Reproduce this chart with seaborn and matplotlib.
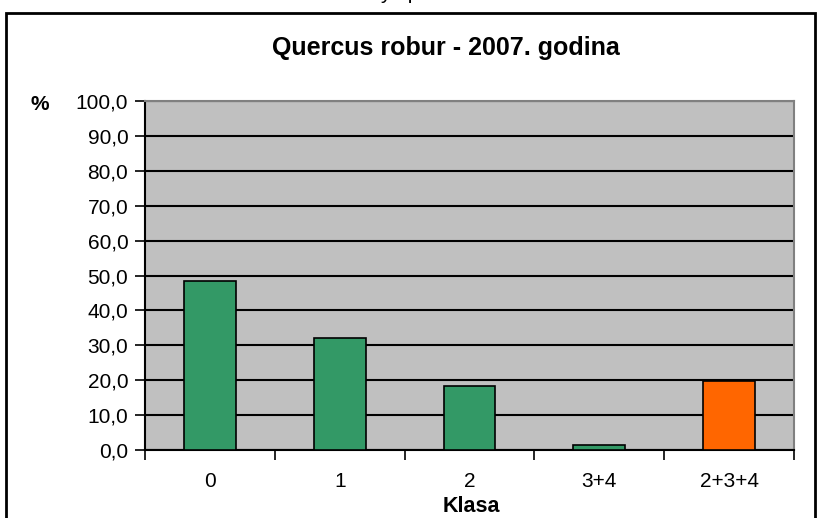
import matplotlib
matplotlib.use("Agg")
import matplotlib.pyplot as plt
import matplotlib.patches as mpatches
import seaborn as sns
import pandas as pd

# values
klase = ["0", "1", "2", "3+4", "2+3+4"]
postotak = [48.5, 32.0, 18.3, 1.4, 19.7]
boje = ["#339966", "#339966", "#339966", "#339966", "#FF6600"]

df = pd.DataFrame({"Klasa": klase, "Postotak": postotak})

sns.set_style("white")
plt.rcParams["font.family"] = ["Liberation Sans", "DejaVu Sans"]
plt.rcParams["text.color"] = "black"
plt.rcParams["xtick.color"] = "black"
plt.rcParams["ytick.color"] = "black"

W, H = 821, 518
fig = plt.figure(figsize=(W / 100, H / 100), dpi=100)
ax = fig.add_axes([145 / W, 1 - 450 / H, (794 - 145) / W, (450 - 101) / H])
ax.set_facecolor("#C0C0C0")

sns.barplot(data=df, x="Klasa", y="Postotak", hue="Klasa", palette=boje,
            saturation=1, width=0.4, edgecolor="black", linewidth=1.2,
            legend=False, ax=ax, zorder=3)

ax.set_ylim(0, 100)
ax.set_xlim(-0.5, len(klase) - 0.5)
ax.set_yticks(range(0, 101, 10))
ax.set_yticklabels([f"{v:.1f}".replace(".", ",") for v in range(0, 101, 10)], fontsize=15)
ax.yaxis.grid(True, color="black", linewidth=1.5, zorder=1)
ax.set_axisbelow(True)

# category boundaries as ticks, labels in the middle
ax.set_xticks([i - 0.5 for i in range(len(klase) + 1)])
ax.set_xticklabels([])
ax.set_xticks(range(len(klase)), minor=True)
ax.set_xticklabels(klase, minor=True, fontsize=15)
ax.tick_params(axis="x", which="major", length=7, width=1.2, color="black", direction="out", bottom=True)
ax.tick_params(axis="x", which="minor", length=0, pad=16)
ax.tick_params(axis="y", length=7, width=1.2, color="black", direction="out", left=True, pad=5)

for s in ["left", "bottom"]:
    ax.spines[s].set_color("black")
    ax.spines[s].set_linewidth(1.5)
for s in ["top", "right"]:
    ax.spines[s].set_color("#808080")
    ax.spines[s].set_linewidth(1.5)

ax.set_xlabel("")
ax.set_ylabel("")

fig.text(446 / W, 1 - 48 / H, "Quercus robur - 2007. godina", ha="center", va="center",
         fontsize=18, fontweight="bold")
fig.text(40 / W, 1 - 105 / H, "%", ha="center", va="center", fontsize=15, fontweight="bold")
fig.text(471 / W, 1 - 506 / H, "Klasa", ha="center", va="center", fontsize=15.5, fontweight="bold")

# header text above the chart frame, mostly outside the picture
fig.text(400 / W, 1 + 1 / H, "y   p", ha="center", va="baseline", fontsize=15)

# chart frame
frame = mpatches.Rectangle((6 / W, -0.1), (815 - 6) / W, 1.1 - 13 / H,
                           transform=fig.transFigure, fill=False,
                           edgecolor="black", linewidth=2, clip_on=False)
fig.patches.append(frame)

fig.savefig("out.png", dpi=100)
